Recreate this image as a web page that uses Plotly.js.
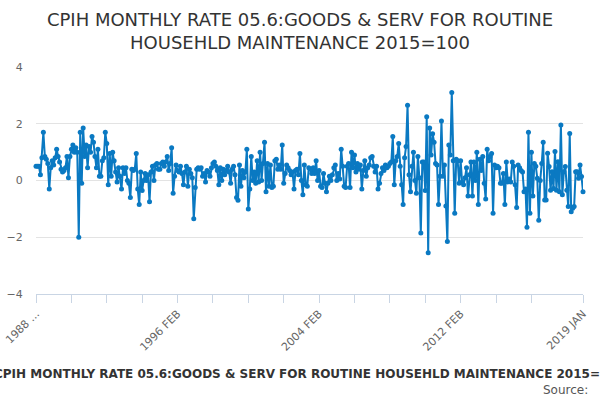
<!DOCTYPE html>
<html>
<head>
<meta charset="utf-8">
<script src="https://cdn.plot.ly/plotly-3.0.1.min.js"></script>
<style>
  body { margin: 0; }
  #chart { width: 600px; height: 400px; }
</style>
</head>
<body>
<div id="chart"></div>
<script>
// monthly rate, %, 1988 FEB .. 2019 JAN
let rateFrom1988Feb = [
  0.5, 0.5, 0.5, 0.2, 0.8, 1.7, 0.85, 0.75, 0.6, -0.3,
  0.45, 0.7, 0.55, 0.8, 1.1, 0.85, 0.65, 0.4, 0.3, 0.35,
  0.45, 0.85, 0.1, 0.85, 1.1, 1.25, 1.0, 1.15, 1.0, -2.0,
  1.7, -0.1, 1.85, 0.85, 1.25, 0.45, 1.2, 1.0, 1.55, 1.35,
  0.85, 0.45, 1.1, 0.15, 0.15, 0.7, 0.8, 1.7, 1.3, -0.15,
  0.95, 0.15, 1.0, 0.7, 0.3, -0.05, 0.45, 0.15, -0.3, 0.45,
  0.25, 0.45, 0.0, -0.1
];
let rateFrom1993Jun = [
  -0.6, 0.4, 0.35, 0.4, 0.95, -0.3, -0.85, 0.3, -0.35, 0.0,
  0.25, 0.0, 0.2, -0.75, 0.3, 0.5, 0.0, 0.55, 0.6, 0.4,
  0.4, 0.6, 0.65, 0.5, 0.65, 0.85, 0.35, 0.6, 1.15, -0.45,
  0.15, 0.55, 0.35, 0.3, 0.5, 0.25, -0.15, 0.3, 0.5, -0.2,
  0.4, 0.25, 0.1, -1.35, -0.25, 0.4, 0.45, 0.4, 0.45, 0.15,
  0.25, -0.05, 0.35, 0.3, 0.15, 0.45, 0.6, 0.65, 0.5, 0.35,
  -0.15, 0.45, 0.0, 0.4
];
let rateFrom1998Oct = [
  0.2, 0.35, 0.5, 0.3, -0.1, 0.4, 0.5, 0.2, -0.6, -0.7,
  0.55, -0.2, 0.35, 0.1, 0.3, 1.1, -1.0, -0.3, 0.85, 0.0,
  0.3, -0.1, 0.7, -0.05, 1.0, 0.0, 0.6, 1.35, -0.4, 0.6,
  -0.2, 0.55, -0.25, -0.2, 0.7, 0.75, 0.4, 0.55, 0.4, 1.25,
  -0.1, 0.25, 0.55, 0.45, 0.35, 0.2, 0.3, -0.3, 0.35, 0.4,
  0.2, 0.95, 0.0, -0.5, 0.55, -0.15, -0.2, 0.45, 0.4, 0.25,
  0.45, 0.25, 0.7, 0.0
];
let rateFrom2004Feb = [
  0.35, -0.2, -0.25, 0.25, -0.1, -0.4, -0.1, 0.15, 0.0, 0.2,
  0.45, 0.55, 0.0, 0.25, 0.05, 1.1, 0.5, -0.2, -0.25, 0.5,
  0.6, -0.25, 1.0, 0.45, 0.9, 0.3, 0.6, 0.4, 0.55, -0.3,
  0.35, 0.7, 0.15, 0.45, 0.55, 0.8, 0.85, 0.5, 0.3, 0.5,
  -0.3, -0.1, 0.25, 0.45, 0.35, 0.55, 0.45, 0.5, 0.6, 0.65,
  1.55, -0.15, 0.7, 0.85, 1.3, 0.5, -0.15, -0.85, 0.8, 1.2,
  2.65, 0.2, -0.4, 0.5
];
let rateFrom2009Jun = [
  1.0, 0.0, -0.45, 0.85, 0.1, -1.85, 0.65, 0.65, -0.35, 2.25,
  -2.55, 1.85, 0.9, 1.65, 1.35, 0.6, 0.55, -0.85, 0.15, 2.1,
  0.15, 0.55, -0.9, -2.15, 1.25, 0.9, 3.1, 0.7, -1.15, 0.75,
  0.7, -0.1, 0.7, -0.05, -0.15, 0.1, 0.45, -0.55, 0.2, 0.65,
  -0.55, 0.65, 0.0, 1.0, -0.85, 0.75, 0.35, 0.85, -0.1, -0.65,
  1.1, 0.7, 0.85, 0.95, -1.15, 0.55, 0.45, 0.5, 0.45, -0.1,
  -0.1, 0.25, -0.85, 0.65
];
let rateFrom2014Oct = [
  -0.05, 0.05, -0.05, 0.65, 0.5, -0.15, -0.95, 0.55, 0.45, 0.35,
  0.3, -0.4, -0.3, -1.65, 1.7, -1.15, 1.0, -0.55, 0.6, 0.5,
  0.08, -1.4, 0.0, 0.6, 1.35, -0.69, -0.69, 0.96, 0.49, -0.34,
  0.31, -0.28, 1.02, -0.34, 0.66, -0.4, 1.96, -0.5, 0.31, 0.49,
  -0.34, -0.92, 1.66, -1.1, -0.98, -0.92, 0.31, 0.31, 0.08, 0.55,
  0.14, -0.4
];

let monthNames = ['JAN','FEB','MAR','APR','MAY','JUN','JUL','AUG','SEP','OCT','NOV','DEC'];
let firstYear = 1988;
let firstMonth = 1; // FEB

// tick marks every 24 months plus the last month, labels on some of them
let tickEvery = 24;
let labelledTicks = ['1988 ...', '', '', '', '1996 FEB', '', '', '', '2004 FEB', '', '', '', '2012 FEB', '', '', '2019 JAN'];

let rate = [].concat(rateFrom1988Feb, rateFrom1993Jun, rateFrom1998Oct,
  rateFrom2004Feb, rateFrom2009Jun, rateFrom2014Oct);

let months = [];
for (let i = 0; i < rate.length; i++) {
  let m = firstMonth + i;
  months.push((firstYear + Math.floor(m / 12)) + ' ' + monthNames[m % 12]);
}

let tickVals = [];
for (let i = 0; i <= months.length - 1 - tickEvery; i += tickEvery) tickVals.push(months[i]);
tickVals.push(months[months.length - 1]);

let titleText = 'CPIH MONTHLY RATE 05.6:GOODS & SERV FOR ROUTINE HOUSEHLD MAINTENANCE 2015=100';

let trace = {
  x: months,
  y: rate,
  type: 'scatter',
  mode: 'lines+markers',
  line: { color: '#0a79c2', width: 2 },
  marker: { color: '#0a79c2', size: 5 },
  cliponaxis: false,
  hoverinfo: 'x+y'
};

let layout = {
  width: 600,
  height: 400,
  font: { family: 'DejaVu Sans, sans-serif', color: '#444' },
  paper_bgcolor: '#fff',
  plot_bgcolor: '#fff',
  showlegend: false,
  margin: { l: 36, r: 17, t: 67, b: 106 },
  title: {
    text: 'CPIH MONTHLY RATE 05.6:GOODS & SERV FOR ROUTINE<br>HOUSEHLD MAINTENANCE 2015=100',
    font: { size: 18, color: '#333' },
    x: 0.5,
    y: 0.935,
    yanchor: 'top'
  },
  xaxis: {
    type: 'category',
    range: [0, months.length - 1],
    tickvals: tickVals,
    ticktext: labelledTicks,
    tickangle: -45,
    tickfont: { size: 11, color: '#666' },
    ticks: 'outside',
    ticklen: 8,
    tickcolor: '#c9d5e4',
    showline: true,
    linecolor: '#c9d5e4',
    linewidth: 1,
    showgrid: false,
    zeroline: false,
    automargin: false,
    title: {
      text: '<b>' + titleText + '</b>',
      font: { size: 12, color: '#333' },
      standoff: 16
    }
  },
  yaxis: {
    range: [-4, 4],
    tickvals: [-4, -2, 0, 2, 4],
    tickfont: { size: 11, color: '#666' },
    ticks: 'outside',
    ticklen: 10,
    tickcolor: 'rgba(0,0,0,0)',
    showgrid: true,
    gridcolor: '#e3e3e3',
    zeroline: false,
    showline: false,
    automargin: false
  },
  annotations: [
    {
      text: 'Source:',
      xref: 'paper',
      yref: 'paper',
      x: 1.013,
      y: -0.423,
      xanchor: 'right',
      yanchor: 'middle',
      showarrow: false,
      font: { size: 12, color: '#555' }
    }
  ]
};

Plotly.newPlot('chart', [trace], layout, { displayModeBar: false, staticPlot: true });
</script>
</body>
</html>
